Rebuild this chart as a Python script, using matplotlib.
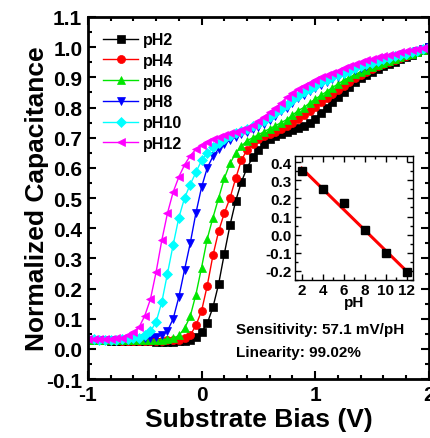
import numpy as np
import matplotlib
matplotlib.use("Agg")
import matplotlib.pyplot as plt
from matplotlib.ticker import MultipleLocator

plt.rcParams['font.family'] = ['Liberation Sans', 'DejaVu Sans']
plt.rcParams['font.weight'] = 'bold'

# substrate bias grid (V), 0.05 V steps
bias = np.linspace(-1, 2, 61)

ph2 = [0.030, 0.030, 0.029, 0.029, 0.028, 0.028, 0.027, 0.027, 0.026, 0.026,
       0.025, 0.025, 0.024, 0.024, 0.024, 0.024, 0.025, 0.026, 0.030, 0.040,
       0.056, 0.085, 0.138, 0.215, 0.315, 0.410, 0.490, 0.553, 0.600, 0.635,
       0.660, 0.680, 0.695, 0.705, 0.712, 0.718, 0.725, 0.733, 0.740, 0.750,
       0.763, 0.782, 0.800, 0.820, 0.835, 0.852, 0.868, 0.884, 0.897, 0.908,
       0.918, 0.928, 0.937, 0.945, 0.952, 0.960, 0.968, 0.975, 0.983, 0.991,
       1.000]
ph4 = [0.030, 0.030, 0.030, 0.029, 0.029, 0.029, 0.028, 0.028, 0.028, 0.028,
       0.028, 0.028, 0.028, 0.028, 0.029, 0.030, 0.031, 0.035, 0.045, 0.078,
       0.126, 0.210, 0.310, 0.390, 0.450, 0.500, 0.565, 0.625, 0.660, 0.680,
       0.695, 0.705, 0.713, 0.720, 0.728, 0.738, 0.750, 0.762, 0.775, 0.790,
       0.803, 0.817, 0.830, 0.845, 0.858, 0.872, 0.885, 0.897, 0.908, 0.918,
       0.927, 0.936, 0.944, 0.951, 0.957, 0.964, 0.971, 0.977, 0.984, 0.992,
       1.000]
ph6 = [0.031, 0.030, 0.030, 0.030, 0.030, 0.029, 0.029, 0.029, 0.029, 0.029,
       0.029, 0.030, 0.030, 0.031, 0.033, 0.035, 0.045, 0.068, 0.108, 0.180,
       0.270, 0.365, 0.435, 0.500, 0.565, 0.615, 0.648, 0.672, 0.690, 0.700,
       0.710, 0.720, 0.730, 0.740, 0.750, 0.760, 0.775, 0.790, 0.800, 0.815,
       0.828, 0.840, 0.853, 0.866, 0.878, 0.890, 0.900, 0.910, 0.918, 0.926,
       0.934, 0.942, 0.949, 0.955, 0.961, 0.967, 0.973, 0.979, 0.985, 0.992,
       1.000]
ph8 = [0.031, 0.031, 0.031, 0.030, 0.030, 0.030, 0.030, 0.031, 0.032, 0.034,
       0.036, 0.038, 0.040, 0.045, 0.060, 0.100, 0.172, 0.262, 0.350, 0.450,
       0.536, 0.600, 0.638, 0.663, 0.680, 0.692, 0.702, 0.712, 0.720, 0.728,
       0.737, 0.747, 0.758, 0.772, 0.787, 0.800, 0.815, 0.830, 0.843, 0.855,
       0.866, 0.876, 0.885, 0.894, 0.902, 0.910, 0.918, 0.925, 0.932, 0.939,
       0.945, 0.951, 0.957, 0.962, 0.967, 0.972, 0.977, 0.982, 0.987, 0.993,
       1.000]
ph10 = [0.032, 0.032, 0.031, 0.031, 0.031, 0.031, 0.032, 0.033, 0.035, 0.038,
        0.045, 0.058, 0.090, 0.155, 0.250, 0.345, 0.435, 0.500, 0.545, 0.585,
        0.625, 0.650, 0.668, 0.683, 0.695, 0.705, 0.714, 0.722, 0.730, 0.738,
        0.746, 0.756, 0.768, 0.782, 0.796, 0.810, 0.825, 0.838, 0.850, 0.862,
        0.873, 0.883, 0.892, 0.900, 0.908, 0.915, 0.922, 0.930, 0.937, 0.943,
        0.949, 0.955, 0.960, 0.965, 0.970, 0.975, 0.979, 0.984, 0.989, 0.994,
        1.000]
ph12 = [0.033, 0.033, 0.033, 0.033, 0.034, 0.035, 0.038, 0.045, 0.055, 0.072,
        0.110, 0.165, 0.255, 0.360, 0.450, 0.520, 0.570, 0.610, 0.640, 0.662,
        0.675, 0.687, 0.695, 0.702, 0.708, 0.714, 0.720, 0.726, 0.733, 0.742,
        0.755, 0.770, 0.785, 0.800, 0.815, 0.835, 0.848, 0.860, 0.870, 0.882,
        0.892, 0.900, 0.908, 0.915, 0.922, 0.930, 0.937, 0.944, 0.950, 0.956,
        0.961, 0.966, 0.971, 0.975, 0.979, 0.983, 0.987, 0.990, 0.993, 0.996,
        1.000]

labels = ['pH2', 'pH4', 'pH6', 'pH8', 'pH10', 'pH12']
colors = ['black', '#ff0000', '#00e600', '#0000ff', '#00ffff', '#ff00ff']
markers = ['s', 'o', '^', 'v', 'D', '<']
curves = [ph2, ph4, ph6, ph8, ph10, ph12]

# inset: flatband shift vs pH
ph_vals = [2, 4, 6, 8, 10, 12]
shift = [0.35, 0.25, 0.175, 0.025, -0.10, -0.205]

fig = plt.figure(figsize=(4.31, 4.39), dpi=100)
ax = fig.add_axes([0.204, 0.134, 0.791, 0.825])

for y, lab, c, m in zip(curves, labels, colors, markers):
    ms = 5.2 if m == 'D' else 5.8
    ax.plot(bias, y, color=c, marker=m, markersize=ms, lw=1.0,
            markeredgewidth=0.5, label=lab)

ax.set_xlim(-1, 2)
ax.set_ylim(-0.1, 1.1)
ax.xaxis.set_major_locator(MultipleLocator(1))
ax.xaxis.set_minor_locator(MultipleLocator(0.2))
ax.yaxis.set_major_locator(MultipleLocator(0.1))
ax.yaxis.set_minor_locator(MultipleLocator(0.05))
ax.tick_params(which='both', direction='in', top=True, right=True, width=1.5)
ax.tick_params(which='major', length=6, labelsize=15, pad=4)
ax.tick_params(which='minor', length=3)
for s in ax.spines.values():
    s.set_linewidth(2.0)
ax.xaxis.set_major_formatter(plt.FuncFormatter(lambda v, p: f"{v:.0f}"))
ax.yaxis.set_major_formatter(plt.FuncFormatter(lambda v, p: f"{v:.1f}"))
ax.set_xlabel('Substrate Bias (V)', fontsize=19, fontweight='bold', labelpad=2)
ax.set_ylabel('Normalized Capacitance', fontsize=19, fontweight='bold', labelpad=-2)

ax.legend(loc='upper left', bbox_to_anchor=(0.0, 1.0), frameon=False,
          fontsize=11.5, handlelength=2.2, handletextpad=0.3,
          labelspacing=0.36, borderaxespad=0.55)

ax.text(0.30, 0.066, 'Sensitivity: 57.1 mV/pH', fontsize=11, fontweight='bold',
        va='center', ha='left')
ax.text(0.30, -0.01, 'Linearity: 99.02%', fontsize=11, fontweight='bold',
        va='center', ha='left')

# inset
ins = fig.add_axes([0.684, 0.36, 0.274, 0.282])
k, b = np.polyfit(ph_vals, shift, 1)
fx = np.array([2, 12])
ins.plot(fx, k * fx + b, color='#ff0000', lw=2.2, zorder=2)
ins.plot(ph_vals, shift, 's', color='black', markersize=6, zorder=3)
ins.set_xlim(1.35, 12.6)
ins.set_ylim(-0.25, 0.433)
ins.xaxis.set_major_locator(MultipleLocator(2))
ins.xaxis.set_minor_locator(MultipleLocator(1))
ins.yaxis.set_major_locator(MultipleLocator(0.1))
ins.yaxis.set_minor_locator(MultipleLocator(0.05))
ins.tick_params(which='both', direction='in', top=True, right=True, width=1.0)
ins.tick_params(which='major', length=4, labelsize=11, pad=2)
ins.tick_params(which='minor', length=2)
ins.yaxis.set_major_formatter(plt.FuncFormatter(lambda v, p: f"{v:.1f}"))
for s in ins.spines.values():
    s.set_linewidth(1.0)
ins.set_xlabel('pH', fontsize=11, fontweight='bold', labelpad=-1)

fig.savefig('out.png', dpi=100)
